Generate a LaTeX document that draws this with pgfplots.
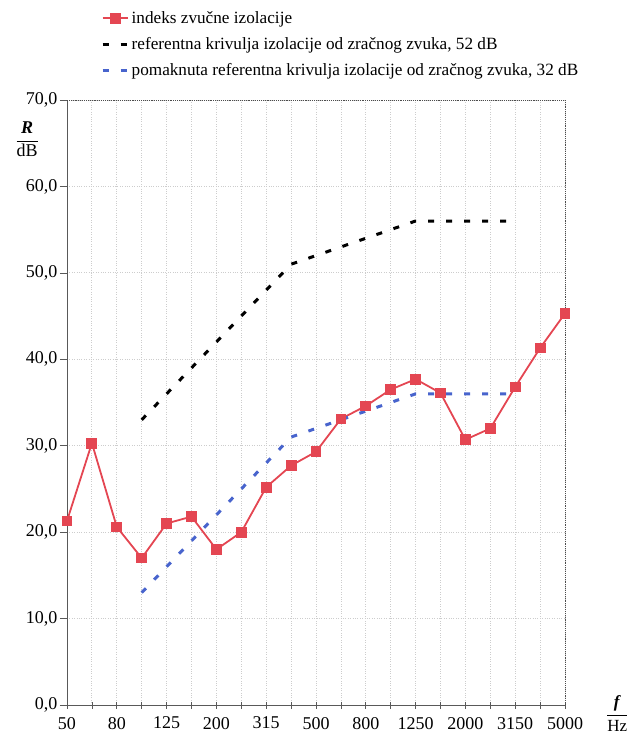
\documentclass[border=0pt]{standalone}
\usepackage{pgfplots}
\pgfplotsset{compat=1.18}
\usepackage{fontspec}
\setmainfont{Liberation Serif}
\definecolor{redser}{RGB}{228,70,82}
\definecolor{blueser}{RGB}{72,100,205}
\definecolor{gridc}{RGB}{205,205,205}
\begin{document}
\begin{tikzpicture}
\begin{axis}[
  scale only axis,
  width=498pt, height=605pt,
  xmin=0, xmax=20, ymin=0, ymax=70,
  xtick={0,...,20},
  xticklabels={50,,80,,125,,200,,315,,500,,800,,1250,,2000,,3150,,5000},
  ytick={0,10,...,70},
  /pgf/number format/.cd, use comma, fixed, fixed zerofill, precision=1, assume math mode=true,
  /pgfplots/.cd,
  tick label style={font=\fontsize{18}{21}\selectfont},
  xticklabel style={yshift=-5pt},
  yticklabel style={xshift=1pt},
  grid=major,
  major grid style={gridc, dotted, line width=0.8pt},
  axis x line*=bottom, axis y line*=left,
  axis line style={gray!70!black, line width=0.9pt, -},
  x tick style={gray!70!black, line width=0.7pt},
  y tick style={gray!70!black, line width=0.7pt},
  xtick align=center, ytick align=outside,
  major tick length=7pt,
  clip=false,
  legend style={at={(axis description cs:0.062,1.153)}, anchor=north west, draw=none, fill=none,
    font=\fontsize{17.2}{21}\selectfont, row sep=8.5pt, cells={anchor=west}},
  legend image code/.code={\draw[mark repeat=2,mark phase=2,#1] plot coordinates {(0cm,0cm) (0.45cm,0cm) (0.9cm,0cm)};},
]
% top and right dotted borders
\draw[gray!60!black, densely dotted, line width=0.9pt] (axis cs:0,70) -- (axis cs:20,70) -- (axis cs:20,0);

\addplot[redser, line width=1.8pt, mark=square*, mark size=4.5pt, mark options={solid, fill=redser}]
coordinates {
(0,21.3) (1,30.3) (2,20.6) (3,17.0) (4,21.0) (5,21.8) (6,18.0) (7,20.0) (8,25.2) (9,27.7)
(10,29.3) (11,33.1) (12,34.6) (13,36.5) (14,37.7) (15,36.1) (16,30.7) (17,32.0) (18,36.8)
(19,41.3) (20,45.3)};
\addlegendentry{indeks zvučne izolacije}

\addplot[black, line width=3pt, dash pattern=on 6pt off 12pt]
coordinates {
(3,33) (4,36) (5,39) (6,42) (7,45) (8,48) (9,51) (10,52) (11,53) (12,54) (13,55) (14,56)
(15,56) (16,56) (17,56) (18,56)};
\addlegendentry{referentna krivulja izolacije od zračnog zvuka, 52 dB}

\addplot[blueser, line width=3pt, dash pattern=on 6pt off 12pt]
coordinates {
(3,13) (4,16) (5,19) (6,22) (7,25) (8,28) (9,31) (10,32) (11,33) (12,34) (13,35) (14,36)
(15,36) (16,36) (17,36) (18,36)};
\addlegendentry{pomaknuta referentna krivulja izolacije od zračnog zvuka, 32 dB}

\node[anchor=center, font=\fontsize{18}{20}\selectfont] at (axis description cs:-0.08,0.935)
  {$\displaystyle\frac{\mbox{\textbf{\textit{R}}}}{\mbox{dB}}$};
\node[anchor=center, font=\fontsize{17}{19}\selectfont] at (axis description cs:1.105,-0.014)
  {$\displaystyle\frac{\mbox{\textbf{\textit{f}}}}{\mbox{Hz}}$};
\end{axis}
\pgfresetboundingbox
\path[use as bounding box] (current axis.south west) ++(-67pt,-37pt) rectangle ++(630pt,742pt);
\end{tikzpicture}
\end{document}
